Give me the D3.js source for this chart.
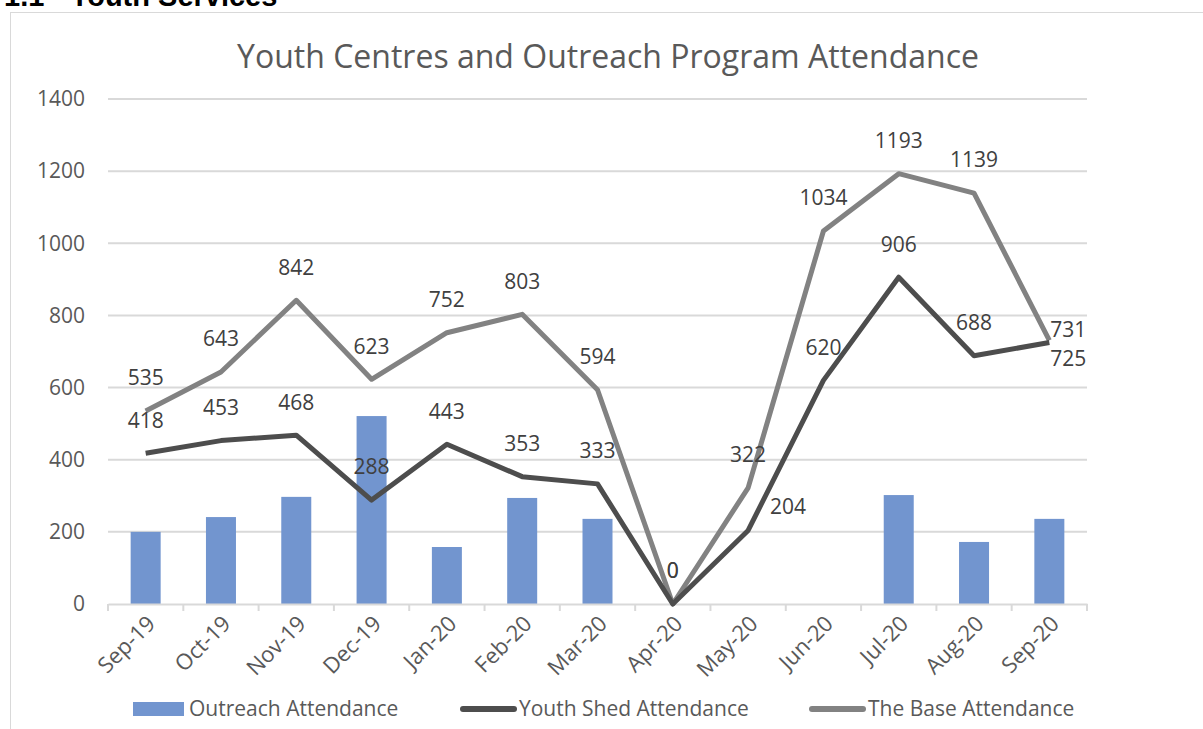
<!DOCTYPE html>
<html lang="en">
<head>
<meta charset="UTF-8">
<title>Youth Centres and Outreach Program Attendance</title>
<script src="https://cdn.jsdelivr.net/npm/d3@7"></script>
<style>
	body { margin:0; background:#fff; }
	svg text { font-family:"Open Sans", sans-serif; }
</style>
</head>
<body>
<script>
// data
var months = ["Sep-19","Oct-19","Nov-19","Dec-19","Jan-20","Feb-20","Mar-20","Apr-20","May-20","Jun-20","Jul-20","Aug-20","Sep-20"];
var outreach = [200, 241, 297, 521, 158, 294, 236, 0, null, null, 302, 172, 236];
var youthShed = [418, 453, 468, 288, 443, 353, 333, 0, 204, 620, 906, 688, 725];
var theBase = [535, 643, 842, 623, 752, 803, 594, 0, 322, 1034, 1193, 1139, 731];
var yTicks = [0, 200, 400, 600, 800, 1000, 1200, 1400];

var width = 1203, height = 729;
var plot = {left:108, right:1087, top:99, bottom:604};

var svg = d3.select("body").append("svg").attr("width", width).attr("height", height);

// heading above the chart box (cut off at the top, as in the report)
var head = svg.append("g").attr("font-weight", "bold").attr("font-size", "29px").attr("fill", "#000");
head.append("text").attr("x", 4).attr("y", 6).style("font-family", "'Liberation Sans', Arial, sans-serif").text("1.1");
head.append("text").attr("x", 70).attr("y", 6).style("font-family", "'Liberation Sans', Arial, sans-serif").text("Youth Services");

// chart frame
svg.append("rect").attr("x", 10.5).attr("y", 12.5).attr("width", 1300).attr("height", 800)
	.attr("fill", "none").attr("stroke", "#d9d9d9").attr("stroke-width", 1);

svg.append("text").attr("x", 608).attr("y", 68).attr("text-anchor", "middle")
	.attr("font-size", "32px").attr("fill", "#595959")
	.text("Youth Centres and Outreach Program Attendance");

var xScale = d3.scaleBand().domain(months).range([plot.left, plot.right]);
var yScale = d3.scaleLinear().domain([0, 1400]).range([plot.bottom, plot.top]);

// gridlines
svg.append("g").selectAll("line").data(yTicks.filter(function(d){ return d > 0; })).enter().append("line")
	.attr("x1", plot.left).attr("x2", plot.right)
	.attr("y1", function(d){ return yScale(d); }).attr("y2", function(d){ return yScale(d); })
	.attr("stroke", "#d9d9d9").attr("stroke-width", 2);

// y axis labels
var yAxis = d3.axisLeft(yScale).tickValues(yTicks).tickFormat(d3.format("d")).tickSize(0).tickPadding(23);
var gy = svg.append("g").attr("transform", "translate(" + plot.left + ",0)").call(yAxis);
gy.select(".domain").remove();
gy.selectAll("text").attr("font-size", "21px").attr("fill", "#595959").style("font-family", "'Open Sans', sans-serif");

// bars
var barW = 30;
svg.append("g").selectAll("rect").data(outreach.map(function(v, i){ return {m:months[i], v:v}; }).filter(function(d){ return d.v; }))
	.enter().append("rect")
	.attr("x", function(d){ return xScale(d.m) + xScale.bandwidth()/2 - barW/2; })
	.attr("y", function(d){ return yScale(d.v); })
	.attr("width", barW)
	.attr("height", function(d){ return yScale(0) - yScale(d.v); })
	.attr("fill", "#7295cf");

// x axis
var xAxis = d3.axisBottom(xScale).tickSize(0).tickFormat("");
var gx = svg.append("g").attr("transform", "translate(0," + plot.bottom + ")").call(xAxis);
gx.select(".domain").attr("stroke", "#d9d9d9").attr("stroke-width", 2);
// tick marks at category boundaries
var bounds = months.map(function(m){ return xScale(m); }).concat([plot.right]);
gx.selectAll("line.bnd").data(bounds).enter().append("line").attr("class", "bnd")
	.attr("x1", function(d){ return d; }).attr("x2", function(d){ return d; })
	.attr("y1", 0).attr("y2", 7).attr("stroke", "#d9d9d9").attr("stroke-width", 2);
gx.selectAll("text.lbl").data(months).enter().append("text").attr("class", "lbl")
	.attr("transform", function(d){ return "translate(" + (xScale(d) + xScale.bandwidth()/2 + 11) + ",21) rotate(-45)"; })
	.attr("text-anchor", "end").attr("font-size", "22px").attr("fill", "#595959")
	.text(function(d){ return d; });

// lines
var line = d3.line()
	.x(function(d, i){ return xScale(months[i]) + xScale.bandwidth()/2; })
	.y(function(d){ return yScale(d); });

svg.append("path").datum(theBase).attr("d", line).attr("fill", "none")
	.attr("stroke", "#828282").attr("stroke-width", 5).attr("stroke-linejoin", "round");
svg.append("path").datum(youthShed).attr("d", line).attr("fill", "none")
	.attr("stroke", "#4d4d4d").attr("stroke-width", 5).attr("stroke-linejoin", "round");

// data labels: above the point, except a few that Excel placed to the side
var labelOffset = {
	"shed-8": [40, -24],
	"shed-12": [19, 16],
	"base-12": [19, -11]
};
function addLabels(vals, key) {
	svg.append("g").selectAll("text").data(vals).enter().append("text")
		.attr("x", function(d, i){
			var o = labelOffset[key + "-" + i];
			return xScale(months[i]) + xScale.bandwidth()/2 + (o ? o[0] : 0);
		})
		.attr("y", function(d, i){
			var o = labelOffset[key + "-" + i];
			return yScale(d) + (o ? o[1] : -33);
		})
		.attr("dy", "0.35em").attr("text-anchor", "middle")
		.attr("font-size", "21px").attr("fill", "#404040")
		.text(function(d){ return d; });
}
addLabels(theBase, "base");
addLabels(youthShed, "shed");

// legend
var lg = svg.append("g").attr("transform", "translate(0,709)");
lg.append("rect").attr("x", 133).attr("y", -7).attr("width", 51).attr("height", 14).attr("fill", "#7295cf");
lg.append("text").attr("x", 189).attr("y", 0).attr("dy", "0.35em").attr("font-size", "21px").attr("fill", "#595959").text("Outreach Attendance");
lg.append("line").attr("x1", 463).attr("x2", 514).attr("y1", 0).attr("y2", 0)
	.attr("stroke", "#4d4d4d").attr("stroke-width", 6).attr("stroke-linecap", "round");
lg.append("text").attr("x", 519).attr("y", 0).attr("dy", "0.35em").attr("font-size", "21px").attr("fill", "#595959").text("Youth Shed Attendance");
lg.append("line").attr("x1", 812).attr("x2", 863).attr("y1", 0).attr("y2", 0)
	.attr("stroke", "#828282").attr("stroke-width", 6).attr("stroke-linecap", "round");
lg.append("text").attr("x", 868).attr("y", 0).attr("dy", "0.35em").attr("font-size", "21px").attr("fill", "#595959").text("The Base Attendance");
</script>
</body>
</html>
